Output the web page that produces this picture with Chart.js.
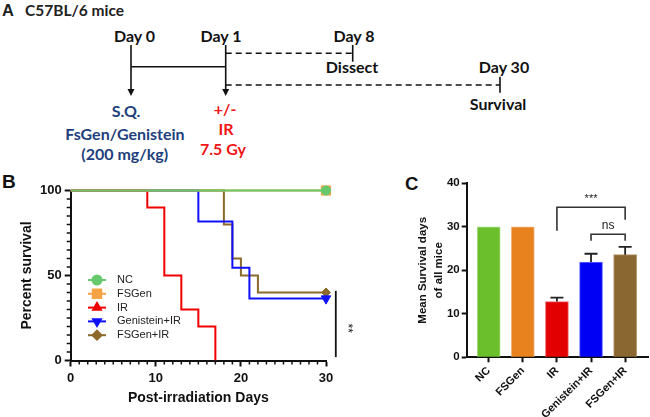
<!DOCTYPE html>
<html>
<head>
<meta charset="utf-8">
<script src="https://cdn.jsdelivr.net/npm/chart.js@4.4.1/dist/chart.umd.min.js"></script>
<style>
  html, body { margin: 0; padding: 0; background: #fff; }
  #page { position: relative; width: 650px; height: 417px; overflow: hidden; }
  #page svg, #page canvas { position: absolute; }
  .lato { font-family: Lato, "Open Sans", sans-serif; font-weight: bold; font-size: 16px; }
  .navy { fill: #213f7c; }
  .red { fill: #f01414; }
</style>
</head>
<body>
<div id="page">
  <svg width="650" height="417" style="left:0;top:0">
    <!-- panel letters -->
    <text x="2" y="16" font-family="Liberation Sans, Arial" font-weight="bold" font-size="16.5" fill="#222">A</text>
    <text x="25" y="15.5" class="lato" fill="#222" style="font-size:15.5px">C57BL/6 mice</text>
    <text x="2" y="187.5" font-family="Liberation Sans, Arial" font-weight="bold" font-size="19" fill="#111">B</text>
    <text x="405" y="190" font-family="Liberation Sans, Arial" font-weight="bold" font-size="18.5" fill="#111">C</text>

    <!-- timeline -->
    <g stroke="#111" stroke-width="1.6" fill="none">
      <line x1="131" y1="45" x2="131" y2="90"/>
      <line x1="225.7" y1="45" x2="225.7" y2="90"/>
      <line x1="131" y1="66.7" x2="225.7" y2="66.7"/>
      <line x1="225.7" y1="53.3" x2="352.7" y2="53.3" stroke-dasharray="6,4"/>
      <line x1="352.7" y1="45" x2="352.7" y2="61.7"/>
      <line x1="225.7" y1="85" x2="500" y2="85" stroke-dasharray="6,4"/>
      <line x1="500" y1="76.7" x2="500" y2="92.7"/>
    </g>
    <polygon points="127.5,89 134.5,89 131,96" fill="#111"/>
    <polygon points="222.2,89 229.2,89 225.7,96" fill="#111"/>

    <g class="lato" fill="#111" text-anchor="middle">
      <text x="134.5" y="41.5">Day 0</text>
      <text x="221" y="41.5">Day 1</text>
      <text x="354" y="41.5">Day 8</text>
      <text x="352" y="73">Dissect</text>
      <text x="504" y="73">Day 30</text>
      <text x="498" y="110">Survival</text>
    </g>
    <g class="lato navy" text-anchor="middle">
      <text x="126" y="117">S.Q.</text>
      <text x="125" y="139.5">FsGen/Genistein</text>
      <text x="124.7" y="159.5">(200 mg/kg)</text>
    </g>
    <g class="lato red" text-anchor="middle">
      <text x="225" y="115">+/-</text>
      <text x="226" y="135">IR</text>
      <text x="223" y="155">7.5 Gy</text>
    </g>
  </svg>
  <canvas id="survivalChart" width="360" height="257" style="left:0;top:160px"></canvas>
  <canvas id="meanChart" width="290" height="257" style="left:360px;top:160px"></canvas>
</div>

<script>
const FONT = "'Liberation Sans', Arial, sans-serif";

// Panel B - Kaplan-Meier survival (days, percent)
const groupNames = ['NC', 'FSGen', 'IR', 'Genistein+IR', 'FSGen+IR'];
const ncDays = [0, 30];
const ncSurv = [100, 100];
const fsgenDays = [0, 30];
const fsgenSurv = [100, 100];
const irDays = [0, 9, 11, 13, 15, 17];
const irSurv = [100, 90, 50, 30, 20, 0];
const genIrDays = [0, 15, 19, 21, 30];
const genIrSurv = [100, 81.8, 54.5, 36.4, 36.4];
const fsIrDays = [0, 18, 19, 20, 22, 30];
const fsIrSurv = [100, 80, 60, 50, 40, 40];
const censoredAt30 = [true, true, false, true, true];

// Panel C - mean survival days
const meanDays = [30, 30, 12.8, 21.9, 23.6];
const semDays = [0, 0, 0.9, 1.9, 1.8];

// styles
const lineColors = ['#66c96e', '#f4a345', '#f00000', '#1010ff', '#8c6a2c'];
const markerStyles = ['circle', 'rect', 'triangle', 'triangle', 'rectRot'];
const markerRot = [0, 0, 0, 180, 0];
const markerSize = [4.5, 6.5, 5, 5.5, 4.5];
const barColors = ['#6cbf2c', '#e8821f', '#e20000', '#0000f5', '#8a6631'];
const barEdges = ['#a4dd82', '#f2b57a', '#ee6a6a', '#6a6aff', '#b3966a'];

const kmDays = [ncDays, fsgenDays, irDays, genIrDays, fsIrDays];
const kmSurv = [ncSurv, fsgenSurv, irSurv, genIrSurv, fsIrSurv];

const survDatasets = groupNames.map((name, g) => {
  const n = kmDays[g].length;
  return {
    label: name,
    data: kmDays[g].map((d, i) => ({ x: d, y: kmSurv[g][i] })),
    borderColor: lineColors[g],
    backgroundColor: lineColors[g],
    borderWidth: 2,
    stepped: 'before',
    fill: false,
    clip: false,
    pointStyle: markerStyles[g],
    pointRotation: markerRot[g],
    pointRadius: kmDays[g].map((_, i) => (i === n - 1 && censoredAt30[g]) ? markerSize[g] : 0),
    pointBorderWidth: 1
  };
});

// minor ticks, legend and the ** bar
const survExtras = {
  id: 'survExtras',
  afterDraw(chart) {
    const ctx = chart.ctx, xs = chart.scales.x, ys = chart.scales.y;
    ctx.save();
    ctx.strokeStyle = '#111';
    ctx.lineWidth = 1.5;
    ctx.beginPath();
    for (let d = 1; d < 30; d++) {
      if (d % 10 === 0) continue;
      const px = xs.getPixelForValue(d);
      ctx.moveTo(px, ys.bottom);
      ctx.lineTo(px, ys.bottom + 4);
    }
    for (let v = 5; v < 100; v += 5) {
      if (v % 50 === 0) continue;
      const py = ys.getPixelForValue(v);
      ctx.moveTo(xs.left, py);
      ctx.lineTo(xs.left - 4, py);
    }
    ctx.stroke();

    // legend
    const rowY = [120, 133.8, 147.6, 161.4, 175.2];
    ctx.font = '11px ' + FONT;
    ctx.textBaseline = 'middle';
    groupNames.forEach((name, g) => {
      const y = rowY[g];
      ctx.strokeStyle = lineColors[g];
      ctx.fillStyle = lineColors[g];
      ctx.lineWidth = 2;
      ctx.beginPath();
      ctx.moveTo(88, y);
      ctx.lineTo(106, y);
      ctx.stroke();
      Chart.helpers.drawPoint(ctx, {
        pointStyle: markerStyles[g],
        radius: g === 1 ? 6 : 4.5,
        rotation: markerRot[g],
        borderWidth: 1
      }, 97, y);
      ctx.fillStyle = '#222';
      ctx.fillText(name, 117, y);
    });

    // significance bar
    const sx = xs.getPixelForValue(31.15);
    ctx.strokeStyle = '#111';
    ctx.lineWidth = 1.8;
    ctx.beginPath();
    ctx.moveTo(sx, ys.getPixelForValue(41));
    ctx.lineTo(sx, ys.getPixelForValue(2));
    ctx.stroke();
    ctx.translate(sx + 12, ys.getPixelForValue(19));
    ctx.rotate(Math.PI / 2);
    ctx.fillStyle = '#111';
    ctx.font = '12px ' + FONT;
    ctx.textAlign = 'center';
    ctx.textBaseline = 'middle';
    ctx.fillText('**', 0, 0);
    ctx.restore();
  }
};

new Chart(document.getElementById('survivalChart'), {
  type: 'line',
  data: { datasets: survDatasets },
  options: {
    responsive: false,
    animation: false,
    layout: { padding: { left: 0, top: 30.5, right: 34, bottom: 0 } },
    plugins: { legend: { display: false }, tooltip: { enabled: false } },
    scales: {
      x: {
        type: 'linear', min: 0, max: 30,
        ticks: { stepSize: 10, padding: 4, color: '#111', font: { family: FONT, size: 13, weight: 'bold' } },
        grid: { display: true, drawOnChartArea: false, tickLength: 6, tickWidth: 2, tickColor: '#111' },
        border: { display: true, color: '#111', width: 2 },
        title: { display: true, text: 'Post-irradiation Days', color: '#111', font: { family: FONT, size: 14, weight: 'bold' }, padding: { top: 0, bottom: 10.6 } },
        afterFit(s) { s.height = 56.5; }
      },
      y: {
        min: 0, max: 100,
        ticks: { stepSize: 50, padding: 3, color: '#111', font: { family: FONT, size: 13, weight: 'bold' } },
        grid: { display: true, drawOnChartArea: false, tickLength: 6, tickWidth: 2, tickColor: '#111' },
        border: { display: true, color: '#111', width: 2 },
        title: { display: true, text: 'Percent survival', color: '#111', font: { family: FONT, size: 14, weight: 'bold' }, padding: { top: 18.6, bottom: 0 } },
        afterFit(s) { s.width = 70.7; }
      }
    }
  },
  plugins: [survExtras]
});

// brackets: [fromIndex, toIndex, topValue, leftEnd, rightEnd, label, labelValue]
const brackets = [
  [2, 4, 34.5, 29.1, 31.6, '***', 37.0],
  [3, 4, 28.3, 26.8, 26.8, 'ns', 30.3]
];

const meanExtras = {
  id: 'meanExtras',
  afterDatasetsDraw(chart) {
    const ctx = chart.ctx, xs = chart.scales.x, ys = chart.scales.y;
    ctx.save();
    ctx.strokeStyle = '#222';
    ctx.lineWidth = 1.8;
    meanDays.forEach((m, i) => {
      if (!semDays[i]) return;
      const px = xs.getPixelForValue(i);
      const yTop = ys.getPixelForValue(m + semDays[i]);
      ctx.beginPath();
      ctx.moveTo(px, ys.getPixelForValue(m));
      ctx.lineTo(px, yTop);
      ctx.moveTo(px - 6.5, yTop);
      ctx.lineTo(px + 6.5, yTop);
      ctx.stroke();
    });
    ctx.strokeStyle = '#333';
    ctx.lineWidth = 1.6;
    ctx.fillStyle = '#222';
    ctx.textAlign = 'center';
    ctx.textBaseline = 'middle';
    brackets.forEach(b => {
      const x1 = xs.getPixelForValue(b[0]), x2 = xs.getPixelForValue(b[1]);
      const yt = ys.getPixelForValue(b[2]);
      ctx.beginPath();
      ctx.moveTo(x1, ys.getPixelForValue(b[3]));
      ctx.lineTo(x1, yt);
      ctx.lineTo(x2, yt);
      ctx.lineTo(x2, ys.getPixelForValue(b[4]));
      ctx.stroke();
      ctx.font = (b[5] === 'ns' ? '12px ' : '11px ') + FONT;
      ctx.fillText(b[5], (x1 + x2) / 2, ys.getPixelForValue(b[6]) + (b[5] === 'ns' ? 0 : 3));
    });
    ctx.restore();
  }
};

new Chart(document.getElementById('meanChart'), {
  type: 'bar',
  data: {
    datasets: [{
      data: meanDays.map((v, i) => ({ x: i, y: v })),
      backgroundColor: barColors,
      borderColor: barEdges,
      borderWidth: 1,
      barThickness: 23
    }]
  },
  options: {
    responsive: false,
    animation: false,
    layout: { padding: { left: 0, top: 23.3, right: 2, bottom: 0 } },
    plugins: { legend: { display: false }, tooltip: { enabled: false } },
    scales: {
      x: {
        type: 'linear', min: -0.645, max: 4.67, offset: false,
        afterBuildTicks(s) { s.ticks = groupNames.map((_, i) => ({ value: i })); },
        ticks: {
          autoSkip: false, maxRotation: 45, minRotation: 45, padding: 2, color: '#111',
          font: { family: FONT, size: 11, weight: 'bold' },
          callback: v => groupNames[v]
        },
        grid: { display: true, offset: false, drawOnChartArea: false, tickLength: 5, tickWidth: 2, tickColor: '#111' },
        border: { display: true, color: '#111', width: 2 },
        afterFit(s) { s.height = 59.7; }
      },
      y: {
        min: 0, max: 40,
        ticks: { stepSize: 10, padding: 2, color: '#111', font: { family: FONT, size: 11.5, weight: 'bold' } },
        grid: { display: true, drawOnChartArea: false, tickLength: 5, tickWidth: 2, tickColor: '#111' },
        border: { display: true, color: '#111', width: 2 },
        title: {
          display: true, text: ['Mean Survival days', 'of all mice'], color: '#111',
          font: { family: FONT, size: 11.5, weight: 'bold', lineHeight: 1.39 },
          padding: { top: 55, bottom: 0 }
        },
        afterFit(s) { s.width = 106.7; }
      }
    }
  },
  plugins: [meanExtras]
});
</script>
</body>
</html>
